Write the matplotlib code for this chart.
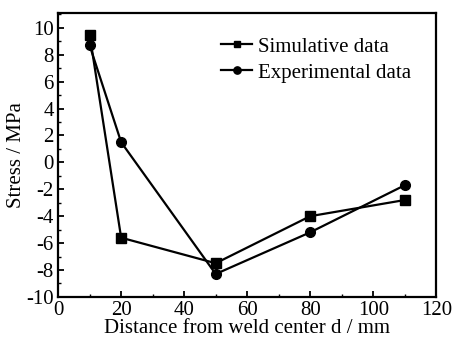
import matplotlib
matplotlib.use("Agg")
import matplotlib.pyplot as plt
from matplotlib.ticker import MultipleLocator

plt.rcParams["font.family"] = ["Liberation Serif", "DejaVu Serif"]
plt.rcParams["axes.unicode_minus"] = False

distance = [10, 20, 50, 80, 110]
simulative = [9.5, -5.6, -7.5, -4.0, -2.8]
experimental = [8.7, 1.5, -8.3, -5.2, -1.7]

fig = plt.figure(figsize=(4.54, 3.44), dpi=100)
ax = fig.add_axes([0.128, 0.137, 0.833, 0.825])

ax.plot(distance, simulative, color="black", lw=1.6, marker="s", ms=6.5, label="Simulative data")
ax.plot(distance, experimental, color="black", lw=1.6, marker="o", ms=7, label="Experimental data")

ax.set_xlim(0, 120)
ax.set_ylim(-10, 11.1)
ax.xaxis.set_major_locator(MultipleLocator(20))
ax.xaxis.set_minor_locator(MultipleLocator(10))
ax.yaxis.set_major_locator(MultipleLocator(2))
ax.yaxis.set_minor_locator(MultipleLocator(1))
ax.tick_params(which="both", direction="in", top=False, right=False, labelsize=15)
ax.tick_params(axis="x", pad=3)
ax.tick_params(axis="y", pad=3)
ax.tick_params(which="major", length=4, width=1.3)
ax.tick_params(which="minor", length=2, width=1)
for s in ax.spines.values():
    s.set_linewidth(1.6)

ax.set_xlabel("Distance from weld center d / mm", fontsize=15, labelpad=-1)
ax.set_ylabel("Stress / MPa", fontsize=15, labelpad=0)

ax.legend(loc="upper left", bbox_to_anchor=(0.432, 0.915), frameon=False, fontsize=15,
          handlelength=1.45, handletextpad=0.3, borderaxespad=0.0, borderpad=0.0,
          labelspacing=0.3, markerscale=0.75)

fig.savefig("out.png", dpi=100)
